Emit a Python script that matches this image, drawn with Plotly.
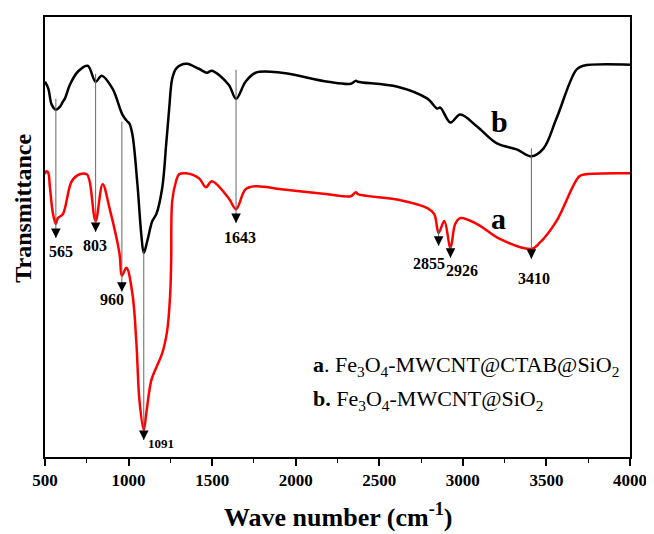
import plotly.graph_objects as go

# ---- data (wavenumber in cm^-1, transmittance in arbitrary units) ----
wn_b = [500, 520, 540, 565, 590, 607, 619, 649, 696, 755, 803, 839, 904, 963, 993, 1005,
        1023, 1053, 1076, 1091, 1112, 1142, 1166, 1201, 1225, 1243, 1261, 1284, 1314, 1350,
        1421, 1469, 1498, 1599, 1643, 1700, 1760, 1914, 2193, 2330, 2360, 2372, 2609, 2788,
        2847, 2865, 2926, 2984, 3085, 3204, 3322, 3410, 3483, 3560, 3679, 3721, 4000]
t_b = [377, 370, 354, 349, 352, 357, 360, 374, 387, 393, 377, 383, 370, 344, 337, 335,
       324, 274, 224, 205, 217, 237, 244, 270, 314, 350, 380, 390, 394, 395,
       390, 386, 388, 374, 360, 377, 386, 386, 377, 375, 378, 377, 372, 360,
       350, 351, 336, 344, 332, 315, 309, 302, 310, 340, 389, 393, 394]

wn_a = [500, 506, 518, 530, 548, 565, 577, 607, 660, 708, 750, 767, 803, 845, 886, 946,
        960, 987, 1023, 1047, 1065, 1091, 1106, 1136, 1166, 1201, 1231, 1249, 1255, 1261,
        1284, 1302, 1344, 1421, 1463, 1498, 1599, 1643, 1700, 1760, 1914, 2193, 2330, 2360,
        2372, 2627, 2788, 2829, 2855, 2889, 2926, 2954, 2984, 3085, 3221, 3410, 3459, 3560,
        3697, 3738, 4000]
t_a = [284, 287, 286, 270, 244, 234, 240, 244, 277, 284, 284, 277, 237, 274, 250, 204,
       182, 190, 164, 114, 57, 27, 44, 77, 90, 104, 127, 164, 197, 257,
       277, 284, 285, 280, 271, 277, 260, 249, 269, 272, 269, 264, 262, 266,
       264, 258, 250, 244, 225, 237, 210, 234, 240, 234, 219, 209, 215, 237,
       282, 284, 285]

peaks = [565, 803, 960, 1091, 1643, 2855, 2926, 3410]
peak_labels = ["565", "803", "960", "1091", "1643", "2855", "2926", "3410"]
line_top = [360, 385, 337, 207, 389, 229, 212, 310]
arrow_tip = [220, 226, 166, 17, 235, 212, 200, 199]
label_x = [595, 797, 898, 1195, 1665, 2800, 2996, 3423]
label_y = [206, 212, 158, 14, 221, 194, 187, 179]
label_size = [16, 16, 16, 13, 16, 16, 16, 16]

x_ticks = [500, 1000, 1500, 2000, 2500, 3000, 3500, 4000]

SERIF = "Liberation Serif, Times New Roman, serif"

fig = go.Figure()
fig.add_trace(go.Scatter(x=wn_b, y=t_b, mode="lines", line=dict(color="black", width=2.5),
                         line_shape="spline", showlegend=False))
fig.add_trace(go.Scatter(x=wn_a, y=t_a, mode="lines", line=dict(color="#ff0000", width=2.5),
                         line_shape="spline", showlegend=False))

for p, top, tip in zip(peaks, line_top, arrow_tip):
    fig.add_shape(type="line", x0=p, x1=p, y0=top, y1=tip, xref="x", yref="y",
                  line=dict(color="#666666", width=1))
    fig.add_annotation(x=p, y=tip, xref="x", yref="y", ax=0, ay=-9, text="",
                       showarrow=True, arrowhead=2, arrowsize=1.6, arrowwidth=1.2,
                       arrowcolor="black")

for lx, ly, txt, sz in zip(label_x, label_y, peak_labels, label_size):
    fig.add_annotation(x=lx, y=ly, xref="x", yref="y", text=txt, showarrow=False,
                       xanchor="center", yanchor="middle",
                       font=dict(family=SERIF, size=sz, color="black", weight="bold"))

fig.add_annotation(x=3221, y=337, xref="x", yref="y", text="b", showarrow=False,
                   xanchor="center", yanchor="middle",
                   font=dict(family=SERIF, size=30, color="black", weight="bold"))
fig.add_annotation(x=3216, y=240, xref="x", yref="y", text="a", showarrow=False,
                   xanchor="center", yanchor="middle",
                   font=dict(family=SERIF, size=30, color="black", weight="bold"))

fig.add_annotation(x=2092, y=91, xref="x", yref="y", xanchor="left", yanchor="middle",
                   text="<b>a</b>. Fe<sub>3</sub>O<sub>4</sub>-MWCNT@CTAB@SiO<sub>2</sub>",
                   showarrow=False, font=dict(family=SERIF, size=22, color="black"))
fig.add_annotation(x=2092, y=57, xref="x", yref="y", xanchor="left", yanchor="middle",
                   text="<b>b.</b> Fe<sub>3</sub>O<sub>4</sub>-MWCNT@SiO<sub>2</sub>",
                   showarrow=False, font=dict(family=SERIF, size=22, color="black"))

fig.add_annotation(x=0.5, y=-0.133, xref="paper", yref="paper",
                   xanchor="center", yanchor="middle",
                   text="Wave number (cm<sup>-1</sup>)", showarrow=False,
                   font=dict(family=SERIF, size=26, color="black", weight="bold"))
fig.add_annotation(x=-0.038, y=0.566, xref="paper", yref="paper", textangle=-90,
                   xanchor="center", yanchor="middle",
                   text="Transmittance", showarrow=False,
                   font=dict(family=SERIF, size=24, color="black", weight="bold"))

fig.update_xaxes(range=[500, 4000], tickvals=x_ticks, ticks="outside", ticklen=7,
                 tickwidth=1.5, tickcolor="black", showline=True, linecolor="black",
                 linewidth=1.5, mirror=True, showgrid=False, zeroline=False,
                 tickfont=dict(family=SERIF, size=17, color="black", weight="bold"),
                 minor=dict(dtick=250, ticks="outside", ticklen=4, tickcolor="black",
                            tickwidth=1.2, showgrid=False))
fig.update_yaxes(range=[0, 442], showticklabels=False, ticks="", showline=True,
                 linecolor="black", linewidth=1.5, mirror=True, showgrid=False,
                 zeroline=False)

# page body adds an 8px offset; size/margins compensate so the plot area matches
fig.update_layout(width=646, height=526, margin=dict(l=37, r=19, t=7, b=77),
                  plot_bgcolor="white", paper_bgcolor="white")

fig.write_html("out.html")
